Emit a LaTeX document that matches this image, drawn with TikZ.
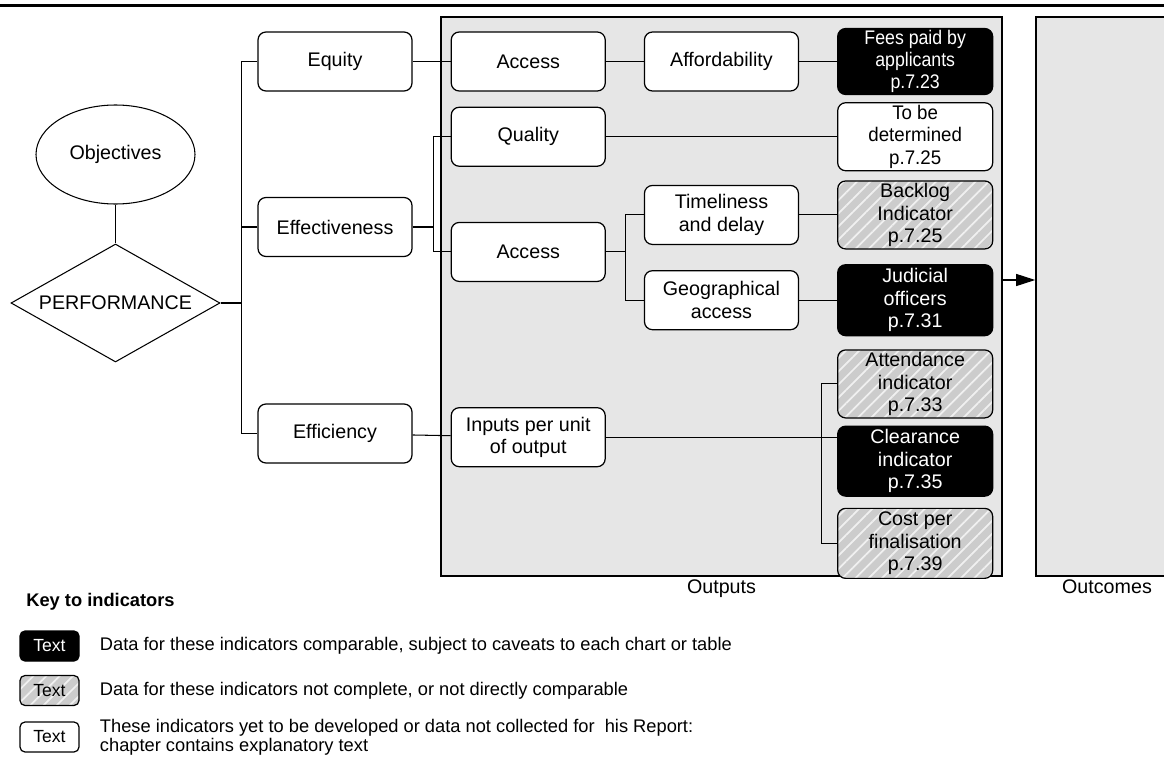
\documentclass[tikz,border=0pt]{standalone}
\usepackage{fontspec}
\setmainfont{Liberation Sans}
\newfontfamily\narrowsans[FakeStretch=0.9]{Liberation Sans}
\newfontfamily\slimsans[FakeStretch=0.95]{Liberation Sans}
\usetikzlibrary{positioning, arrows.meta, shapes.geometric, patterns.meta}

\definecolor{panelgray}{HTML}{E6E6E6}
\definecolor{hatchgray}{HTML}{CCCCCC}
\definecolor{stripegray}{HTML}{F0F0F0}

\begin{document}
\begin{tikzpicture}[
    font=\fontsize{11.2}{12.8}\selectfont,
    node distance=0.3cm and 0.76cm, % Vertical and horizontal node distances
    rbox/.style={draw, line width=0.7pt, rounded corners=0.16cm, align=center, inner sep=0.5pt,
      minimum width=3.08cm, minimum height=1.18cm}, % Base rounded box
    box/.style={rbox, fill=white}, % Objective / sub-objective boxes
    ind/.style={rbox, minimum width=3.1cm, minimum height=1.36cm}, % Indicator boxes
    indwhite/.style={ind, fill=white},
    indblack/.style={ind, fill=black, text=white},
    hatch/.style={preaction={fill=hatchgray},
      pattern={Lines[angle=45, distance=5.3pt, line width=1pt]}, pattern color=stripegray},
    indhatch/.style={ind, hatch},
    panel/.style={draw, line width=0.9pt, fill=panelgray, inner sep=0},
    link/.style={line width=0.6pt},
    keybox/.style={rbox, rounded corners=0.1cm, minimum width=1.18cm, minimum height=0.6cm,
      font=\fontsize{10}{12}\selectfont},
    keytext/.style={inner sep=0, align=left, font=\fontsize{10.4}{9.6}\selectfont}
  ]
    \useasboundingbox (0,0) rectangle (23.28,-15.24);
    \draw[line width=1.7pt] (0,-0.116) -- (23.28,-0.116);

    % Output and outcome panels
    \node[panel, minimum width=11.22cm, minimum height=11.18cm] (outputs) at (14.43,-5.93) {};
    \node[panel, minimum width=2.84cm, minimum height=11.18cm] (outcomes) at (22.14,-5.93) {};
    \node[below=0.06cm of outputs, inner sep=0] (outlbl) {Outputs};
    \node[below=0.06cm of outcomes, inner sep=0] (outclbl) {Outcomes};

    % Objectives
    \node[ellipse, draw, line width=0.6pt, minimum width=3.18cm, minimum height=1.98cm, inner sep=0] (obj) at (2.31,-3.09) {Objectives};
    \node[diamond, draw, line width=0.6pt, aspect=1.77, minimum width=4.18cm, minimum height=2.36cm, inner sep=0] (perf) at (2.31,-6.06) {PERFORMANCE};
    \node[box] (equity) at (6.70,-1.23) {Equity};
    \node[box] (effect) at (6.70,-4.54) {Effectiveness};
    \node[box] (effic)  at (6.70,-8.67) {Efficiency};

    % Equity branch
    \node[box, right=of equity] (access1) {Access};
    \node[box, right=of access1] (afford) {Affordability};
    \node[indblack, right=of afford, minimum height=1.32cm, font=\fontsize{11.2}{12.6}\narrowsans] (fees) {Fees paid by\\ applicants\\ p.7.23};

    % Effectiveness branch
    \node[box, below=of access1] (quality) {Quality};
    \node[indwhite, font=\fontsize{11.2}{12.8}\slimsans] (tbd) at (fees |- quality) {To be\\ determined\\ p.7.25};
    \node[box, below=1.1cm of quality] (access2) {Access};
    \node[box, right=of access2, yshift=0.74cm] (timely) {Timeliness\\ and delay};
    \node[box, below=0.5cm of timely] (geo) {Geographical\\ access};
    \node[indhatch] (backlog) at (fees |- timely) {Backlog\\ Indicator\\ p.7.25};
    \node[indblack, minimum height=1.42cm] (judicial) at (fees |- geo) {Judicial\\ officers\\ p.7.31};

    % Efficiency branch
    \node[box, below=2.5cm of access2] (inputs) {Inputs per unit\\ of output};
    \node[indhatch, below=0.26cm of judicial] (attend) {Attendance\\ indicator\\ p.7.33};
    \node[indblack, below=0.14cm of attend, minimum height=1.4cm] (clear) {Clearance\\ indicator\\ p.7.35};
    \node[indhatch, below=0.22cm of clear, minimum height=1.4cm] (cost) {Cost per\\ finalisation\\ p.7.39};

    % Draw links
    \draw[link] (obj) -- (perf);
    \draw[link] (perf.east) -- ++(0.42,0) coordinate (fork1);
    \draw[link] (equity.west) -| (fork1) |- (effic.west);
    \draw[link] (effect.west) -- (effect.west -| fork1);
    \draw[link] (equity) -- (access1);
    \draw[link] (access1) -- (afford);
    \draw[link] (afford) -- (fees);
    \draw[link] (effect.east) -- ++(0.42,0) coordinate (fork2);
    \draw[link] (quality.west) -| (fork2) |- (access2.west);
    \draw[link] (quality) -- (tbd);
    \draw[link] (access2.east) -- ++(0.4,0) coordinate (fork3);
    \draw[link] (timely.west) -| (fork3) |- (geo.west);
    \draw[link] (timely) -- (backlog);
    \draw[link] (geo) -- (judicial);
    \draw[link] (effic) -- (inputs);
    \draw[link] (attend.west) -- ++(-0.32,0) coordinate (fork4) |- (cost.west);
    \draw[link] (inputs.east) -- (inputs.east -| clear.west);
    \draw[link, -{Triangle[length=0.38cm, width=0.24cm]}] ([yshift=0.33cm]outputs.east) -- ([yshift=0.33cm]outcomes.west); % Outputs to outcomes

    % Key to indicators
    \node[anchor=west, inner sep=0, font=\fontsize{10.4}{12}\bfseries] (keyhead) at (0.52,-12.04) {Key to indicators};
    \node[keybox, fill=black, text=white] (key1) at (0.99,-12.92) {Text};
    \node[keybox, hatch] (key2) at (0.99,-13.81) {Text};
    \node[keybox, fill=white] (key3) at (0.99,-14.74) {Text};
    \node[keytext, right=0.4cm of key1] (keytext1) {Data for these indicators comparable, subject to caveats to each chart or table};
    \node[keytext, right=0.4cm of key2] (keytext2) {Data for these indicators not complete, or not directly comparable};
    \node[keytext, right=0.4cm of key3] (keytext3) {These indicators yet to be developed or data not collected for \ his Report:\\ chapter contains explanatory text};
\end{tikzpicture}
\end{document}
